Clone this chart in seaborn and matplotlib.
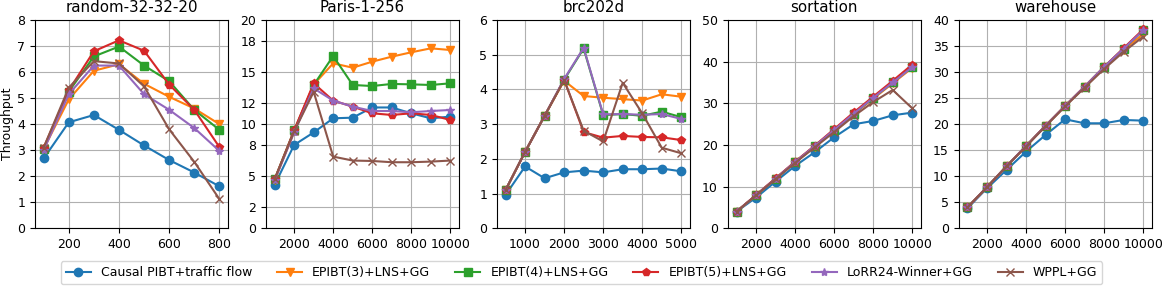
import pandas as pd
import numpy as np
import matplotlib
matplotlib.use('Agg')
import matplotlib.pyplot as plt
import seaborn as sns

# Method names, colours and markers
methods = ['Causal PIBT+traffic flow', 'EPIBT(3)+LNS+GG', 'EPIBT(4)+LNS+GG',
           'EPIBT(5)+LNS+GG', 'LoRR24-Winner+GG', 'WPPL+GG']
colors = ['#1f77b4', '#ff7f0e', '#2ca02c', '#d62728', '#9467bd', '#8c564b']
markers = ['o', 'v', 's', 'p', '*', 'x']

# random-32-32-20
rand_x = [100, 200, 300, 400, 500, 600, 700, 800]
rand_causal = [2.68, 4.07, 4.35, 3.78, 3.18, 2.62, 2.14, 1.61]
rand_epibt3 = [3.05, 4.95, 6.05, 6.30, 5.55, 5.05, 4.60, 4.00]
rand_epibt4 = [3.05, 5.25, 6.60, 6.98, 6.25, 5.65, 4.55, 3.78]
rand_epibt5 = [3.10, 5.30, 6.80, 7.22, 6.82, 5.52, 4.55, 3.12]
rand_lorr = [3.00, 5.15, 6.25, 6.25, 5.15, 4.55, 3.85, 2.97]
rand_wppl = [3.10, 5.40, 6.42, 6.33, 5.45, 3.80, 2.55, 1.12]

# Paris-1-256
paris_x = [1000, 2000, 3000, 4000, 5000, 6000, 7000, 8000, 9000, 10000]
paris_causal = [4.16, 8.00, 9.20, 10.56, 10.62, 11.60, 11.60, 11.04, 10.56, 10.72]
paris_epibt3 = [4.60, 9.30, 13.80, 15.84, 15.42, 16.00, 16.48, 16.90, 17.28, 17.12]
paris_epibt4 = [4.70, 9.40, 13.76, 16.54, 13.76, 13.66, 13.86, 13.82, 13.76, 13.92]
paris_epibt5 = [4.70, 9.40, 13.92, 12.26, 11.68, 11.04, 10.88, 11.04, 10.88, 10.40]
paris_lorr = [4.60, 9.20, 13.44, 12.26, 11.68, 11.26, 11.26, 11.14, 11.26, 11.36]
paris_wppl = [4.70, 9.30, 13.10, 6.88, 6.50, 6.46, 6.34, 6.34, 6.40, 6.50]

# brc202d
brc_x = [500, 1000, 1500, 2000, 2500, 3000, 3500, 4000, 4500, 5000]
brc_causal = [0.96, 1.78, 1.44, 1.61, 1.66, 1.61, 1.70, 1.70, 1.72, 1.64]
brc_epibt3 = [1.10, 2.20, 3.24, 4.25, 3.81, 3.76, 3.72, 3.68, 3.86, 3.79]
brc_epibt4 = [1.10, 2.20, 3.24, 4.28, 5.18, 3.26, 3.29, 3.24, 3.36, 3.20]
brc_epibt5 = [1.10, 2.20, 3.24, 4.28, 2.77, 2.61, 2.66, 2.63, 2.62, 2.54]
brc_lorr = [1.10, 2.20, 3.24, 4.30, 5.20, 3.28, 3.29, 3.27, 3.29, 3.15]
brc_wppl = [1.10, 2.20, 3.24, 4.27, 2.81, 2.50, 4.19, 3.31, 2.32, 2.16]

# sortation
sort_x = [1000, 2000, 3000, 4000, 5000, 6000, 7000, 8000, 9000, 10000]
sort_causal = [4.0, 7.36, 11.2, 14.96, 18.24, 21.84, 24.96, 25.76, 27.12, 27.76]
sort_epibt3 = [4.0, 7.9, 11.9, 15.8, 19.6, 23.5, 27.4, 31.1, 34.8, 38.5]
sort_epibt4 = [4.0, 7.9, 11.9, 15.9, 19.7, 23.6, 27.5, 31.3, 35.0, 38.8]
sort_epibt5 = [4.0, 8.0, 12.0, 16.0, 19.8, 23.8, 27.8, 31.6, 35.4, 39.3]
sort_lorr = [4.0, 7.9, 11.9, 15.9, 19.7, 23.6, 27.5, 31.3, 35.0, 38.7]
sort_wppl = [4.0, 7.9, 11.8, 15.7, 19.4, 23.1, 26.9, 30.3, 33.2, 28.8]

# warehouse
ware_x = [1000, 2000, 3000, 4000, 5000, 6000, 7000, 8000, 9000, 10000]
ware_causal = [3.84, 7.68, 11.2, 14.72, 17.92, 20.93, 20.16, 20.16, 20.8, 20.67]
ware_epibt3 = [4.0, 7.9, 11.9, 15.8, 19.7, 23.5, 27.2, 30.9, 34.3, 37.3]
ware_epibt4 = [4.0, 7.9, 11.9, 15.8, 19.7, 23.5, 27.2, 31.0, 34.5, 38.0]
ware_epibt5 = [4.0, 7.9, 11.9, 15.8, 19.7, 23.5, 27.2, 31.0, 34.6, 38.2]
ware_lorr = [4.0, 7.9, 11.9, 15.8, 19.7, 23.5, 27.2, 31.0, 34.5, 38.0]
ware_wppl = [4.0, 7.9, 11.9, 15.7, 19.6, 23.4, 27.0, 30.6, 33.9, 36.8]

maps = ['random-32-32-20', 'Paris-1-256', 'brc202d', 'sortation', 'warehouse']
map_x = [rand_x, paris_x, brc_x, sort_x, ware_x]
map_series = [
    [rand_causal, rand_epibt3, rand_epibt4, rand_epibt5, rand_lorr, rand_wppl],
    [paris_causal, paris_epibt3, paris_epibt4, paris_epibt5, paris_lorr, paris_wppl],
    [brc_causal, brc_epibt3, brc_epibt4, brc_epibt5, brc_lorr, brc_wppl],
    [sort_causal, sort_epibt3, sort_epibt4, sort_epibt5, sort_lorr, sort_wppl],
    [ware_causal, ware_epibt3, ware_epibt4, ware_epibt5, ware_lorr, ware_wppl],
]

# Axis ticks
yticks = [np.arange(0, 9, 1), [0, 2, 5, 8, 10, 12, 15, 18, 20], np.arange(0, 7, 1),
          np.arange(0, 51, 10), np.arange(0, 41, 5)]
xticks = [[200, 400, 600, 800], [2000, 4000, 6000, 8000, 10000], [1000, 2000, 3000, 4000, 5000],
          [2000, 4000, 6000, 8000, 10000], [2000, 4000, 6000, 8000, 10000]]

# Long table
rows = []
for m, xs, series in zip(maps, map_x, map_series):
    for name, ys in zip(methods, series):
        for x, y in zip(xs, ys):
            rows.append({'map': m, 'method': name, 'agents': x, 'throughput': y})
df = pd.DataFrame(rows)

plt.rcParams['font.family'] = ['DejaVu Sans']
plt.rcParams['font.size'] = 9

fig, axes = plt.subplots(ncols=5, nrows=1, figsize=(11.63, 2.86), dpi=100, facecolor='w')
fig.subplots_adjust(left=0.030, right=0.9905, top=0.930, bottom=0.202, wspace=0.195)

for i, ax in enumerate(axes):
    sub_map = df[df['map'] == maps[i]]
    for name, color, marker in zip(methods, colors, markers):
        data = sub_map[sub_map['method'] == name]
        sns.lineplot(ax=ax, data=data, x='agents', y='throughput', color=color, marker=marker,
                     markersize=6, mec=color, mew=1.0, label=name, legend=False)
    ax.set_title(maps[i], fontsize=10.8)
    ax.set_ylim(yticks[i][0], yticks[i][-1])
    ax.set_yticks(yticks[i])
    ax.set_xticks(xticks[i])
    ax.grid(True, color='#b0b0b0', linewidth=0.8)
    ax.set_xlabel('')
    ax.set_ylabel('')
    if ax.get_legend() is not None:
        ax.get_legend().remove()
axes[0].set_ylabel('Throughput', labelpad=2.5)

handles, labels = axes[0].get_legend_handles_labels()
fig.legend(handles=handles, labels=labels, loc='lower center', ncol=6, fontsize=9,
           bbox_to_anchor=(0.5, 0.0), borderaxespad=0.15)

plt.savefig('out.png', dpi=100, facecolor='w')
